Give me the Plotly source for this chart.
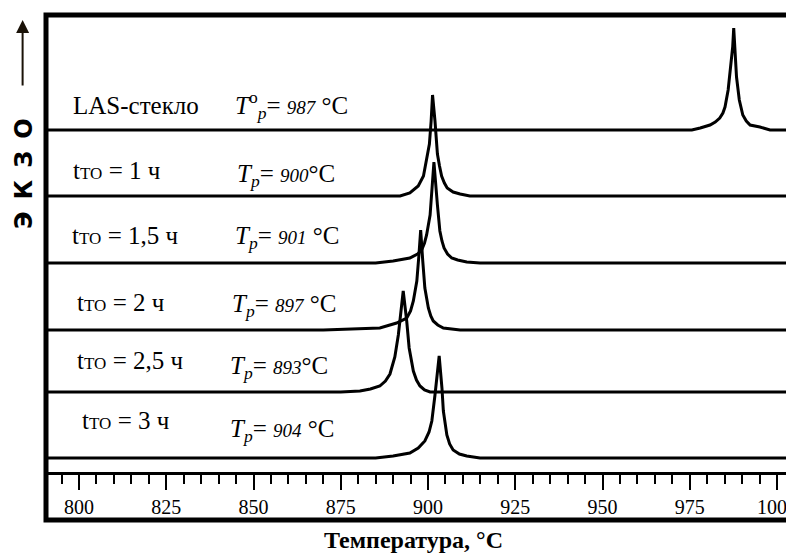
import plotly.graph_objects as go

# ---------------- data ----------------
tick_vals = [800, 825, 850, 875, 900, 925, 950, 975, 1000]

# LAS glass
las_T = [790, 975.6, 978.0, 980.8, 982.3, 983.6, 984.5, 985.1, 986.0, 986.8,
         987.3, 987.6, 988.0, 988.4, 989.2, 990.2, 991.2, 992.3, 995.1,
         998.0, 1010]
las_S = [0, 0, 2, 5, 8, 12, 17, 23, 40, 63, 83, 102, 80, 53, 30, 15, 9, 5,
         3, 0, 0]

# t_TO = 1 h
t1_T = [790, 892.0, 894.8, 897.2, 898.7, 899.4, 900.4, 900.9, 901.3,
        902.0, 902.7, 903.3, 903.9, 904.7, 905.5, 907.2, 909.2, 912.0, 1010]
t1_S = [0, 0, 3, 10, 20, 32, 52, 75, 101, 75, 42, 30, 20, 13, 8, 4, 2, 0, 0]

# t_TO = 1.5 h
t15_T = [790, 885.0, 890.0, 894.8, 897.0, 898.2, 899.0, 899.6, 900.6,
         901.1, 901.7, 902.7, 903.4, 904.0, 904.6, 905.6, 906.8, 908.5,
         911.1, 914.9, 1010]
t15_S = [0, 0, 2, 5, 9, 13, 20, 28, 48, 75, 101, 58, 32, 22, 15, 9, 5, 3,
         1, 0, 0]

# t_TO = 2 h
t2_T = [790, 870.0, 886.2, 891.0, 893.9, 895.0, 895.8, 896.8, 897.4,
        897.9, 898.5, 899.1, 900.1, 900.8, 901.5, 902.8, 904.4, 909.2, 1010]
t2_S = [0, 0, 2, 7, 12, 19, 29, 49, 75, 100, 69, 42, 22, 14, 9, 5, 2, 0, 0]

# t_TO = 2.5 h
t25_T = [790, 875.0, 880.5, 883.5, 886.2, 887.8, 889.1, 890.5, 891.5,
         892.2, 892.9, 893.9, 894.6, 895.8, 896.7, 897.7, 899.0, 900.6, 1010]
t25_S = [0, 0, 1, 3, 6, 11, 18, 35, 57, 77, 101, 71, 44, 21, 12, 6, 2, 0, 0]

# t_TO = 3 h
t3_T = [790, 885.0, 890.0, 894.8, 897.2, 899.1, 900.3, 901.1, 902.0,
        902.7, 903.2, 904.0, 904.4, 905.4, 906.2, 907.2, 909.0, 911.1,
        914.9, 1010]
t3_S = [0, 0, 2, 5, 10, 17, 26, 37, 63, 83, 102, 70, 47, 23, 14, 8, 4, 2,
        0, 0]

curves_T = [las_T, t1_T, t15_T, t2_T, t25_T, t3_T]
curves_S = [las_S, t1_S, t15_S, t2_S, t25_S, t3_S]
offsets = [390, 324, 257, 190, 128, 62]

TO = "<span style='font-size:17px'>ТО</span>"
left_labels = ["LAS-стекло",
               "t" + TO + " = 1 ч",
               "t" + TO + " = 1,5 ч",
               "t" + TO + " = 2 ч",
               "t" + TO + " = 2,5 ч",
               "t" + TO + " = 3 ч"]
peak_labels = ["987", "900", "901", "897", "893", "904"]

# ---------------- figure ----------------
W, H = 794, 554
PAGE = 8                         # browser body margin
L, R, T, B = 38, 0, 7, 42
PPX = 3.49                       # pixels per degree
X_LEFT_SHOT = L + PAGE           # plot left edge in screenshot px
x0 = 800 - (79 - X_LEFT_SHOT) / PPX
plot_w = W - L - R
plot_h = H - T - B
x1 = x0 + plot_w / PPX
Y_BOT_SHOT = H - B + PAGE        # plot bottom edge in screenshot px

fig = go.Figure()
for Ts, Ss, off in zip(curves_T, curves_S, offsets):
    fig.add_trace(go.Scatter(x=Ts, y=[s + off for s in Ss], mode="lines",
                             line=dict(color="black", width=3),
                             showlegend=False, hoverinfo="skip"))

serif = "Liberation Serif, Times New Roman, serif"

def dx(px):   # screenshot px -> data x
    return x0 + (px - X_LEFT_SHOT) / PPX

def dy(py):   # screenshot px -> data y
    return Y_BOT_SHOT - py

def paper_x(px):
    return (px - X_LEFT_SHOT) / plot_w

def paper_y(py):
    return (Y_BOT_SHOT - py) / plot_h

left_pos = [(71, 105), (71, 170), (70, 235), (75, 302), (75, 360), (80, 420)]
peak_pos = [(233, 105), (235, 175), (233, 237), (230, 305), (228, 367), (228, 430)]

anns = []
for txt, (px, py) in zip(left_labels, left_pos):
    anns.append(dict(x=dx(px), y=dy(py), xref="x", yref="y",
                     text=txt, showarrow=False, xanchor="left", yanchor="middle",
                     font=dict(family=serif, size=25, color="black")))
for i, (val, (px, py)) in enumerate(zip(peak_labels, peak_pos)):
    sup = "<sup>o</sup>" if i == 0 else ""
    sp = " " if i not in (1, 4) else ""
    txt = ("<i>T</i>" + sup + "<sub><i>p</i></sub>= "
           "<span style='font-size:19px'><i>" + val + "</i></span>" + sp + "°C")
    anns.append(dict(x=dx(px), y=dy(py), xref="x", yref="y",
                     text=txt, showarrow=False, xanchor="left", yanchor="middle",
                     font=dict(family=serif, size=25, color="black")))

# axis title
anns.append(dict(x=paper_x(413), y=paper_y(540), xref="paper", yref="paper",
                 text="<b>Температура, °С</b>", showarrow=False,
                 xanchor="center", yanchor="middle",
                 font=dict(family=serif, size=24, color="black")))
# ЭКЗО
anns.append(dict(x=paper_x(24), y=paper_y(174), xref="paper", yref="paper",
                 text="<b>Э\u2002К\u2002З\u2002О</b>", textangle=-90,
                 showarrow=False, xanchor="center", yanchor="middle",
                 font=dict(family="DejaVu Sans", size=24, color="black")))
# arrow
anns.append(dict(x=paper_x(22.6), y=paper_y(20), xref="paper", yref="paper",
                 text="", showarrow=True, ax=0, ay=67,
                 arrowhead=2, arrowsize=1.3, arrowwidth=2, arrowcolor="#1a1208"))

shapes = [
    dict(type="rect", xref="paper", yref="paper", x0=0, x1=1.2, y0=0, y1=1,
         line=dict(color="black", width=5), layer="above"),
]

fig.update_layout(
    width=W, height=H, margin=dict(l=L, r=R, t=T, b=B),
    paper_bgcolor="white", plot_bgcolor="white",
    annotations=anns, shapes=shapes,
    xaxis=dict(range=[x0, x1], tickvals=tick_vals, ticks="outside",
               ticklen=15, tickwidth=1.5, tickcolor="black",
               minor=dict(dtick=5, ticks="outside", ticklen=9, tickwidth=1.5,
                          tickcolor="black"),
               showline=True, linewidth=3, linecolor="black",
               anchor="free", position=paper_y(473),
               showgrid=False, zeroline=False,
               tickfont=dict(family=serif, size=20, color="black")),
    yaxis=dict(range=[0, plot_h], visible=False, showgrid=False, zeroline=False),
)

fig.write_html("out.html")
